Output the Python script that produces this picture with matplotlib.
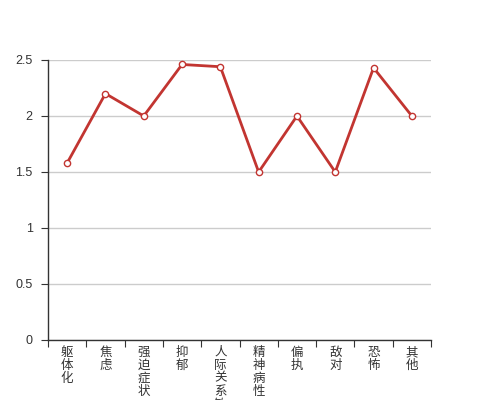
import matplotlib
matplotlib.use("Agg")
import matplotlib.pyplot as plt
import numpy as np

plt.rcParams['font.family'] = ['Liberation Sans', 'Noto Sans CJK SC', 'DejaVu Sans']

# SCL-90 factor scores
categories = ['躯体化', '焦虑', '强迫症状', '抑郁', '人际关系敏感',
              '精神病性', '偏执', '敌对', '恐怖', '其他']
scores = [1.58, 2.2, 2.0, 2.46, 2.44, 1.5, 2.0, 1.5, 2.43, 2.0]

fig = plt.figure(figsize=(4.79, 4.00), dpi=100)
ax = fig.add_axes([48 / 479, 60 / 400, 383 / 479, 280 / 400])

x = np.arange(len(categories))
ax.plot(x, scores, color='#c23531', lw=2, marker='o', ms=4.5,
        mfc='white', mec='#c23531', mew=1, zorder=3, clip_on=False)

ax.set_xlim(-0.5, len(categories) - 0.5)
ax.set_ylim(0, 2.5)
ax.set_yticks([0, 0.5, 1, 1.5, 2, 2.5])
ax.set_yticklabels(['0', '0.5', '1', '1.5', '2', '2.5'])
ax.yaxis.grid(True, color='#cccccc', lw=1)
ax.set_axisbelow(True)

# category boundaries get the ticks, labels sit in the middle
ax.set_xticks(np.arange(-0.5, len(categories) + 0.5, 1))
ax.set_xticklabels([])
ax.set_xticks(x, minor=True)
ax.set_xticklabels(['\n'.join(c) for c in categories], minor=True,
                   fontsize=9, color='#333333', linespacing=1.1, va='top')
ax.tick_params(axis='x', which='minor', length=0, pad=5)
ax.tick_params(axis='x', which='major', length=5, color='#333333')
ax.tick_params(axis='y', length=5, color='#333333', labelsize=9,
               labelcolor='#333333', pad=6)

for side in ['top', 'right']:
    ax.spines[side].set_visible(False)
for side in ['left', 'bottom']:
    ax.spines[side].set_color('#333333')
    ax.spines[side].set_linewidth(1)

fig.savefig('out.png', dpi=100)
